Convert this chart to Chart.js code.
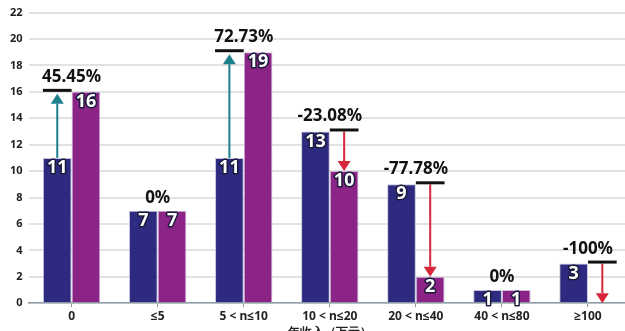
<!DOCTYPE html>
<html>
<head>
<meta charset="utf-8">
<script src="https://cdn.jsdelivr.net/npm/chart.js@4/dist/chart.umd.min.js"></script>
<style>
html,body{margin:0;padding:0;background:#fff;overflow:hidden;}
#wrap{position:absolute;left:0;top:0;width:632px;height:342px;}
</style>
</head>
<body>
<div id="wrap"><canvas id="c"></canvas></div>
<script>
const categories = ['0', '≤5', '5 < n≤10', '10 < n≤20', '20 < n≤40', '40 < n≤80', '≥100'];
const beforeValues = [11, 7, 11, 13, 9, 1, 3];
const afterValues = [16, 7, 19, 10, 2, 1, 0];
const changeLabels = ['45.45%', '0%', '72.73%', '-23.08%', '-77.78%', '0%', '-100%'];
const yTicks = [0, 2, 4, 6, 8, 10, 12, 14, 16, 18, 20, 22];
const xTitle = '年收入（万元）';

const BLUE = '#2d2a80';
const PURPLE = '#8c2487';
const TEAL = '#1b7f8c';
const RED = '#d8263a';
const FONT = "'Noto Sans', 'Open Sans', sans-serif";

function arrow(ctx, x, y1, y2, color) {
  const dir = y2 < y1 ? -1 : 1;
  const headH = 10, headW = 13;
  ctx.save();
  ctx.strokeStyle = color;
  ctx.fillStyle = color;
  ctx.lineWidth = 2;
  ctx.beginPath();
  ctx.moveTo(x, y1);
  ctx.lineTo(x, y2 - dir * headH);
  ctx.stroke();
  ctx.beginPath();
  ctx.moveTo(x, y2);
  ctx.lineTo(x - headW / 2, y2 - dir * headH);
  ctx.lineTo(x + headW / 2, y2 - dir * headH);
  ctx.closePath();
  ctx.fill();
  ctx.restore();
}

function hline(ctx, b, ly) {
  ctx.save();
  ctx.strokeStyle = '#111';
  ctx.lineWidth = 3;
  ctx.beginPath();
  ctx.moveTo(b.x - b.width / 2, ly - 1.5);
  ctx.lineTo(b.x + b.width / 2, ly - 1.5);
  ctx.stroke();
  ctx.restore();
}

const annotPlugin = {
  id: 'annot',
  afterDatasetsDraw(chart) {
    const ctx = chart.ctx;
    const y = chart.scales.y;
    const x = chart.scales.x;
    const m0 = chart.getDatasetMeta(0);
    const m1 = chart.getDatasetMeta(1);
    for (let i = 0; i < categories.length; i++) {
      const b0 = m0.data[i], b1 = m1.data[i];
      const v0 = beforeValues[i], v1 = afterValues[i];
      const cx = x.getPixelForValue(i);
      let refY;
      if (v1 > v0) {
        const ly = y.getPixelForValue(v1);
        refY = ly - 2;
        arrow(ctx, b0.x, y.getPixelForValue(v0), ly + 2, TEAL);
        hline(ctx, b0, ly);
      } else if (v1 < v0) {
        const ly = y.getPixelForValue(v0);
        refY = ly - 2;
        arrow(ctx, b1.x, ly, y.getPixelForValue(v1), RED);
        hline(ctx, b1, ly);
      } else {
        refY = y.getPixelForValue(v0);
      }
      ctx.save();
      ctx.font = "700 17px " + FONT;
      ctx.textAlign = 'center';
      ctx.textBaseline = 'alphabetic';
      ctx.fillStyle = '#111';
      ctx.fillText(changeLabels[i], cx, refY - 8);
      ctx.restore();

      [[b0, v0], [b1, v1]].forEach(([b, v]) => {
        if (v <= 0) return;
        ctx.save();
        ctx.font = "700 18px " + FONT;
        ctx.textAlign = 'center';
        ctx.textBaseline = 'top';
        ctx.lineJoin = 'round';
        ctx.lineWidth = 3;
        ctx.strokeStyle = '#1a1a3a';
        ctx.strokeText(String(v), b.x, b.y + 1);
        ctx.fillStyle = '#fff';
        ctx.fillText(String(v), b.x, b.y + 1);
        ctx.restore();
      });
    }
  }
};

new Chart(document.getElementById('c'), {
  type: 'bar',
  data: {
    labels: categories,
    datasets: [
      { label: 'before', data: beforeValues, backgroundColor: BLUE, borderColor: 'rgba(190,190,215,0.9)', borderWidth: 1, borderSkipped: 'bottom' },
      { label: 'after', data: afterValues, backgroundColor: PURPLE, borderColor: 'rgba(200,180,210,0.9)', borderWidth: 1, borderSkipped: 'bottom' }
    ]
  },
  options: {
    responsive: true,
    maintainAspectRatio: false,
    animation: false,
    events: [],
    layout: { padding: { left: 4, right: 1, top: 11, bottom: 2 } },
    plugins: { legend: { display: false }, tooltip: { enabled: false } },
    datasets: { bar: { categoryPercentage: 0.667, barPercentage: 1.0 } },
    scales: {
      x: {
        offset: true,
        grid: { offset: false, drawOnChartArea: false, drawTicks: true, tickLength: 4, color: '#8e9ea8', lineWidth: 1 },
        border: { display: true, color: '#8e9ea8', width: 1.5 },
        ticks: { color: '#222', font: { family: FONT, size: 12, weight: '700' }, padding: 2, maxRotation: 0, autoSkip: false },
        title: { display: true, text: xTitle, color: '#222', font: { family: FONT, size: 12, weight: '700' }, padding: { top: 0, bottom: 0 } }
      },
      y: {
        min: 0, max: 22,
        afterBuildTicks(scale) { scale.ticks = yTicks.map(v => ({ value: v })); },
        grid: { color: '#e2e2e2', lineWidth: 2, drawTicks: false },
        border: { display: false },
        ticks: { color: '#222', font: { family: FONT, size: 11, weight: '700' }, padding: 6 }
      }
    }
  },
  plugins: [annotPlugin]
});
</script>
</body>
</html>
